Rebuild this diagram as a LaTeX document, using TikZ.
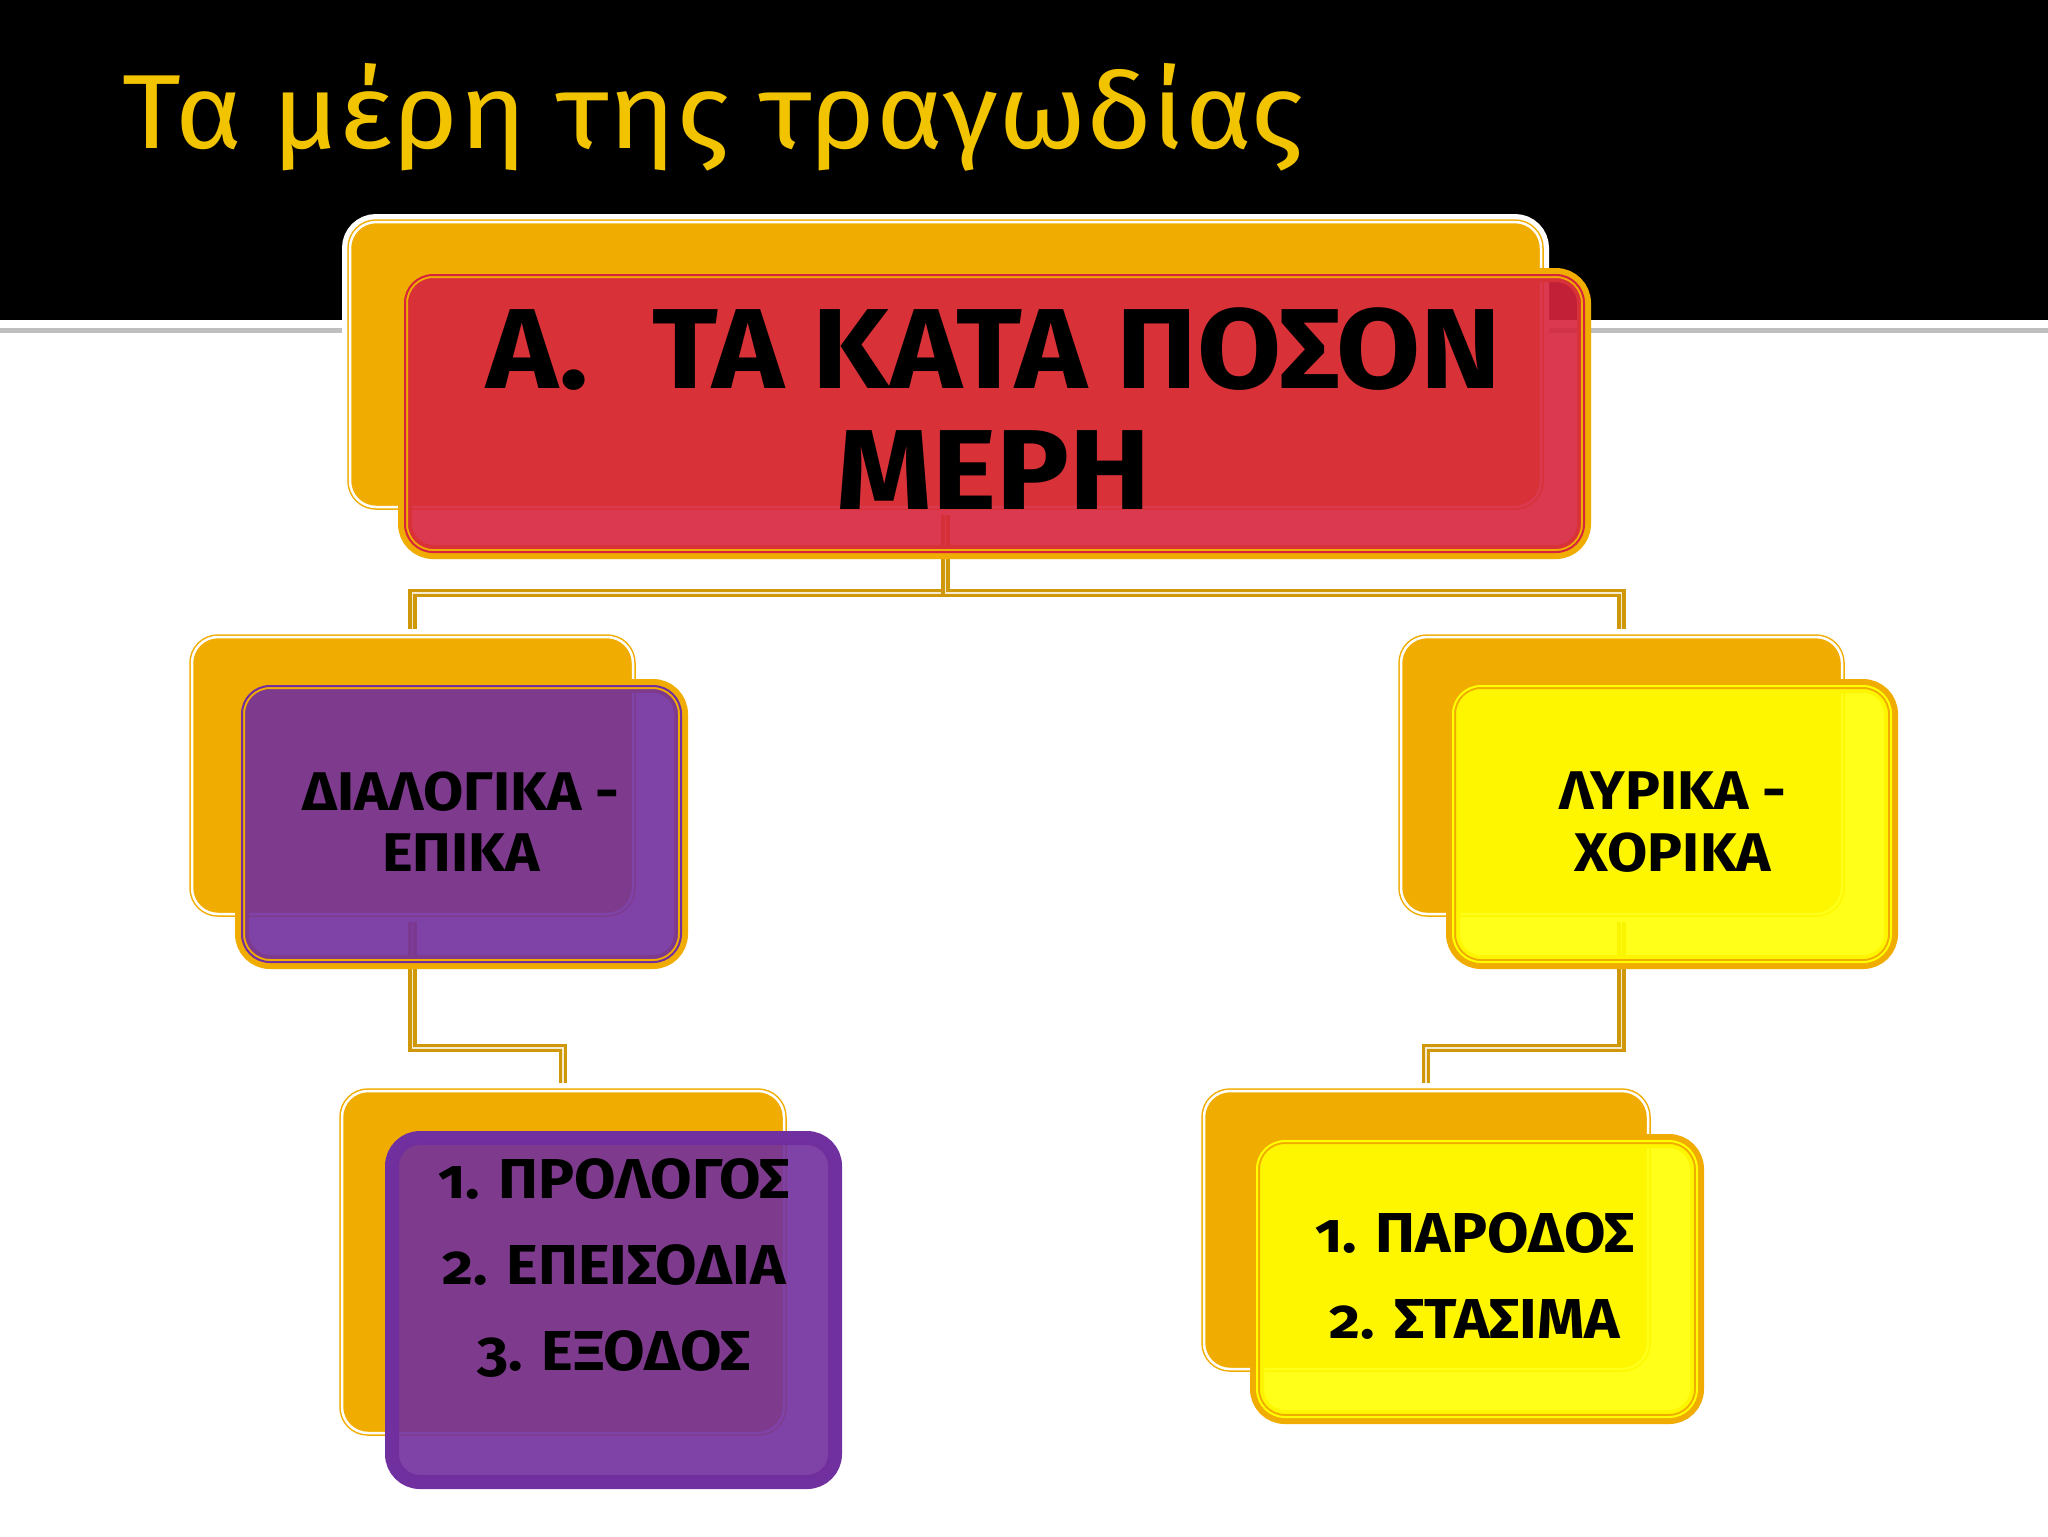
\documentclass[tikz,border=0pt]{standalone}
\usepackage{fontspec}
\setmainfont{Fira Sans}[Numbers=OldStyle]
\newfontfamily\titlefont{Fira Sans}[FakeStretch=1.08]
\newfontfamily\boxfont{Fira Sans}[FakeStretch=1.07,Numbers=OldStyle]
\usetikzlibrary{backgrounds}
\definecolor{boxgold}{RGB}{240,172,0}
\definecolor{linkgold}{RGB}{206,152,8}
\definecolor{ttlgold}{RGB}{242,196,0}
\definecolor{redfill}{RGB}{214,36,61}
\definecolor{violetfill}{RGB}{114,47,158}
\definecolor{violetedge}{RGB}{112,48,160}
\definecolor{yellowfill}{RGB}{255,255,0}

\begin{document}
\begin{tikzpicture}[x=0.1mm,y=-0.1mm,
    backbox/.style={rectangle,inner sep=0pt,rounded corners=2.6mm,fill=boxgold,draw=boxgold,line width=.15mm,double=white,double distance=.25mm,preaction={draw=white,line width=1.6mm}},
    frontbox/.style 2 args={rectangle,inner sep=0pt,rounded corners=2.8mm,fill=#1,fill opacity=.9,draw=#2,line width=.2mm,double=#1,double distance=.2mm,preaction={draw=#2,line width=1.4mm}},
    link/.style={draw=linkgold,line width=.35mm,double=white!80!linkgold,double distance=.15mm}]
    \useasboundingbox (0,0) rectangle (2048,1536);
    % header
    \fill[black] (0,0) rectangle (2048,320);
    \draw[gray!50,line width=.5mm] (0,330) -- (2048,330);
    \node[anchor=base west,inner sep=0pt,text=ttlgold,font=\titlefont\fontsize{30}{36}\selectfont] (title) at (122,148) {Τα μέρη της τραγωδίας};
    % boxes
    \node[backbox,minimum width=119.1mm,minimum height=28.5mm] (topback) at (945.5,364.5) {};
    \node[frontbox={redfill}{boxgold},minimum width=117.9mm,minimum height=27.7mm] (top) at (994.5,413.5) {};
    \node[align=center,font=\boxfont\bfseries\fontsize{32.4}{34.4}\selectfont] (toptxt) at (994,409) {Α.\hspace{6.4mm}ΤΑ ΚΑΤΑ ΠΟΣΟΝ\\ΜΕΡΗ};
    \node[backbox,minimum width=44.1mm,minimum height=27.7mm] (dlgback) at (412.5,775.5) {};
    \node[frontbox={violetfill}{boxgold},minimum width=43.9mm,minimum height=27.6mm] (dlg) at (461.5,824) {};
    \node[align=center,font=\boxfont\bfseries\fontsize{15.5}{17.4}\selectfont] (dlgtxt) at (461,822) {ΔΙΑΛΟΓΙΚΑ -\\ΕΠΙΚΑ};
    \node[backbox,minimum width=44.1mm,minimum height=27.7mm] (lyrback) at (1621.5,775.5) {};
    \node[frontbox={yellowfill}{boxgold},minimum width=43.8mm,minimum height=27.6mm] (lyr) at (1672,824) {};
    \node[align=center,font=\boxfont\bfseries\fontsize{15.5}{17.4}\selectfont] (lyrtxt) at (1673,822) {ΛΥΡΙΚΑ -\\ΧΟΡΙΚΑ};
    \node[backbox,minimum width=44.2mm,minimum height=34.2mm] (epiback) at (563,1262) {};
    \node[frontbox={violetfill}{violetedge},minimum width=44.3mm,minimum height=34.4mm] (epi) at (613.5,1310) {};
    \node[align=center,font=\boxfont\bfseries\fontsize{16}{24.5}\selectfont] (epitxt) at (614,1268) {1. ΠΡΟΛΟΓΟΣ\\2. ΕΠΕΙΣΟΔΙΑ\\3. ΕΞΟΔΟΣ};
    \node[backbox,minimum width=44.4mm,minimum height=27.8mm] (chorback) at (1426,1230) {};
    \node[frontbox={yellowfill}{boxgold},minimum width=44mm,minimum height=27.6mm] (chor) at (1477,1279) {};
    \node[align=center,font=\boxfont\bfseries\fontsize{16}{24.5}\selectfont] (chortxt) at (1475,1276) {1. ΠΑΡΟΔΟΣ\\2. ΣΤΑΣΙΜΑ};
    % links
    \begin{scope}[on background layer]
        \fill[white] (0,0) rectangle (2048,1536);
        \draw[link] (topback.south) -- ++(0,85) -| (dlgback.north);
        \draw[link] (topback.south) -- ++(0,85) -| (lyrback.north);
        \draw[link] (dlgback.south) -- ++(0,133) -| (epiback.north);
        \draw[link] (lyrback.south) -- ++(0,133) -| (chorback.north);
    \end{scope}
\end{tikzpicture}
\end{document}
